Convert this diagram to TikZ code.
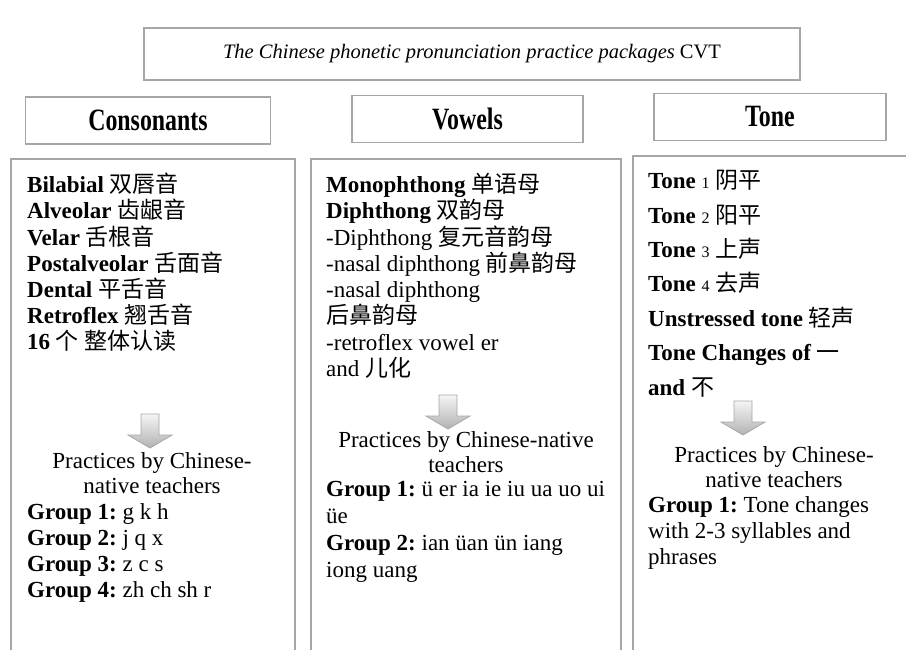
\documentclass[tikz,border=0pt]{standalone}
\usepackage{fontspec}
\setmainfont{Liberation Serif}
\newfontfamily\headfont[FakeStretch=0.77]{Liberation Serif}
\newfontfamily\cjk{Noto Sans CJK SC}
\usetikzlibrary{positioning}
\definecolor{framegray}{HTML}{A6A6A6}
\newcommand{\zh}[1]{{\cjk\mdseries #1}}
\newcommand{\tnum}[1]{{\mdseries\fontsize{16}{16}\selectfont #1}}
\tikzset{
framebox/.style={draw=framegray, line width=1.6pt, inner sep=0pt},
headbox/.style={
  framebox,
  minimum height=47pt,
  font=\fontsize{31}{33}\headfont\bfseries
  },
colbox/.style={framebox, anchor=north west, minimum height=560pt},
listtext/.style={anchor=north west, align=left, inner sep=0pt},
practext/.style={
  anchor=north,
  align=center,
  inner sep=0pt,
  font=\fontsize{23}{25}\selectfont
  },
blockarrow/.pic={
  \shade[top color=gray!8, bottom color=gray!60, draw=framegray, line width=0.8pt]
    (-9,0) -- (9,0) -- (9,21) -- (22,21) -- (0,34) -- (-22,21) -- (-9,21) -- cycle;
  }
}

\begin{document}
\frenchspacing
\begin{tikzpicture}[x=1pt, y=-1pt]
\useasboundingbox (0,0) rectangle (906,650);
\clip (0,0) rectangle (906,650);

% title and the three headings
\node[framebox, minimum width=656pt, minimum height=52pt,
  font=\fontsize{20.5}{22}\selectfont]
  (title) at (472,54)
  {\textit{The Chinese phonetic pronunciation practice packages} CVT};
\node[headbox, minimum width=245pt] (hdcons) at (148,120.5) {Consonants};
\node[headbox, minimum width=231pt] (hdvow) at (467.5,119) {Vowels};
\node[headbox, minimum width=232pt] (hdtone) at (770,117) {Tone};

% the columns
\node[colbox, minimum width=284pt] (colcons) at (10,158) {};
\node[colbox, minimum width=310pt] (colvow) at (310,158) {};
\node[colbox, minimum width=290pt] (coltone) at (632,155) {};

% consonants
\node[listtext, font=\fontsize{23}{26.2}\selectfont\bfseries]
  (conslist) at (27,173)
{
Bilabial \zh{双唇音}\\
Alveolar \zh{齿龈音}\\
Velar \zh{舌根音}\\
Postalveolar \zh{舌面音}\\
Dental \zh{平舌音}\\
Retroflex \zh{翘舌音}\\
16 \zh{个 整体认读}
};
\pic at (150,414) {blockarrow};
\coordinate (consarr) at (152,452);
\node[practext] (conspract) at (consarr)
  {Practices by Chinese-\\native teachers};
\node[listtext, font=\fontsize{23}{26}\selectfont]
  (consgrp) at (27,503)
{
\textbf{Group 1:} g k h\\
\textbf{Group 2:} j q x\\
\textbf{Group 3:} z c s\\
\textbf{Group 4:} zh ch sh r
};

% vowels
\node[listtext, font=\fontsize{23}{26.3}\selectfont]
  (vowlist) at (326,173)
{
\textbf{Monophthong \zh{单语母}}\\
\textbf{Diphthong \zh{双韵母}}\\
-Diphthong \zh{复元音韵母}\\
-nasal diphthong \zh{前鼻韵母}\\
-nasal diphthong\\
\zh{后鼻韵母}\\
-retroflex vowel er\\
and \zh{儿化}
};
\pic at (448,395) {blockarrow};
\coordinate (vowarr) at (466,431);
\node[practext] (vowpract) at (vowarr)
  {Practices by Chinese-native\\teachers};
\node[listtext, font=\fontsize{23}{27}\selectfont]
  (vowgrp) at (326,481)
{
\textbf{Group 1:} ü er ia ie iu ua uo ui\\
üe\\
\textbf{Group 2:} ian üan ün iang\\
iong uang
};

% tones
\node[listtext, font=\fontsize{23}{34.4}\selectfont\bfseries]
  (tonelist) at (648,170)
{
Tone \tnum{1} \zh{阴平}\\
Tone \tnum{2} \zh{阳平}\\
Tone \tnum{3} \zh{上声}\\
Tone \tnum{4} \zh{去声}\\
Unstressed tone \zh{轻声}\\
Tone Changes of \zh{一}\\
and \zh{不}
};
\pic at (743,401) {blockarrow};
\coordinate (tonearr) at (774,446);
\node[practext] (tonepract) at (tonearr)
  {Practices by Chinese-\\native teachers};
\node[listtext, font=\fontsize{23}{26}\selectfont]
  (tonegrp) at (648,496)
{
\textbf{Group 1:} Tone changes\\
with 2-3 syllables and\\
phrases
};
\end{tikzpicture}
\end{document}
